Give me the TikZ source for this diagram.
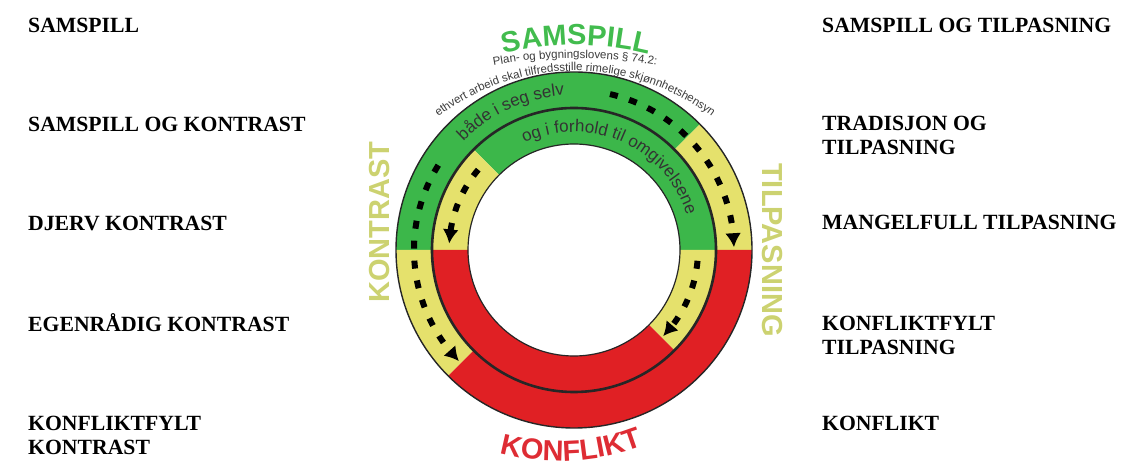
\documentclass[tikz,border=0pt]{standalone}
\usepackage{fontspec}
\setmainfont{Liberation Serif}
\setsansfont{Liberation Sans}
\usetikzlibrary{arrows.meta, bending, decorations.text, positioning}

\definecolor{ringgreen}{RGB}{60,183,74}
\definecolor{ringyellow}{RGB}{229,225,108}
\definecolor{ringred}{RGB}{224,32,36}
\definecolor{wordolive}{RGB}{204,210,112}
\definecolor{wordgreen}{RGB}{66,188,78}
\definecolor{wordred}{RGB}{222,44,52}
\definecolor{lawgray}{RGB}{60,60,60}

% annular piece: inner r, outer r, start angle, end angle, colour
\newcommand{\ringpart}[5]{%
  \fill[#5] (#3:#2) arc[start angle=#3, end angle=#4, radius=#2]
    -- (#4:#1) arc[start angle=#4, end angle=#3, radius=#1] -- cycle;}

\begin{document}
\begin{tikzpicture}[x=1pt, y=1pt,
    lbl/.style={font=\bfseries\fontsize{21.7}{24}\selectfont, anchor=base west, inner sep=0pt, align=left},
    bigword/.style={font=\sffamily\bfseries\fontsize{29}{29}\selectfont, inner sep=0pt},
    dasharrow/.style={line width=6pt, dash pattern=on 8pt off 12pt, -{Latex[length=14pt, width=16pt, flex]}},
    ringline/.style={draw=black!85}]

    \fill[white] (0,0) rectangle (1121,468);
    \useasboundingbox (0,0) rectangle (1121,468);

    % Left labels (y = baseline of last line)
    \foreach \n/\y/\t in {l1/435/SAMSPILL, l2/336/SAMSPILL OG KONTRAST, l3/237/DJERV KONTRAST,
        l4/136/EGENRÅDIG KONTRAST, l5/13/{KONFLIKTFYLT\\KONTRAST}} {
        \node[lbl] (\n) at (28,\y) {\t};
    }

    % Right labels
    \foreach \n/\y/\t in {r1/435/SAMSPILL OG TILPASNING, r2/313/{TRADISJON OG\\TILPASNING},
        r3/238/MANGELFULL TILPASNING, r4/113/{KONFLIKTFYLT\\TILPASNING}, r5/37/KONFLIKT} {
        \node[lbl] (\n) at (822,\y) {\t};
    }

    \begin{scope}[shift={(574,218)}]
        % Outer ring
        \ringpart{142}{178}{45}{180}{ringgreen}
        \ringpart{142}{178}{0}{45}{ringyellow}
        \ringpart{142}{178}{180}{225}{ringyellow}
        \ringpart{142}{178}{225}{360}{ringred}

        % Inner ring
        \ringpart{106}{142}{0}{135}{ringgreen}
        \ringpart{106}{142}{135}{180}{ringyellow}
        \ringpart{106}{142}{315}{360}{ringyellow}
        \ringpart{106}{142}{180}{315}{ringred}

        \draw[ringline, line width=1.4pt] (0,0) circle (178);
        \draw[ringline, line width=2.6pt] (0,0) circle (142);
        \draw[ringline, line width=1.2pt] (0,0) circle (106);

        % Texts inside the rings
        \path[decorate, decoration={text along path, text align=center, text color=black!80,
            text={|\sffamily\fontsize{17}{17}\selectfont|både i seg selv}}]
            (170:155) arc[start angle=170, end angle=59, radius=155];
        \path[decorate, decoration={text along path, text align=center, text color=black!80,
            text={|\sffamily\fontsize{17}{17}\selectfont|og i forhold til omgivelsene}}]
            (150:118) arc[start angle=150, end angle=-18, radius=118];

        % Dashed arrows
        \draw[dasharrow] (148:160) arc[start angle=148, end angle=224, radius=160];
        \draw[dasharrow] (77:160) arc[start angle=77, end angle=1, radius=160];
        \draw[dasharrow] (140:125) arc[start angle=140, end angle=177, radius=125];
        \draw[dasharrow] (-5:124) arc[start angle=-5, end angle=-44, radius=124];
    \end{scope}

    % Words above the rings
    \path[decorate, decoration={text along path, text align=center, text color=wordgreen,
        text={|\sffamily\bfseries\fontsize{29}{29}\selectfont|SAMSPILL}}]
        (576,123) ++(120:300) arc[start angle=120, end angle=60, radius=300];
    \path[decorate, decoration={text along path, text align=center, text color=lawgray,
        text={|\sffamily\fontsize{11.5}{12}\selectfont|Plan- og bygningslovens § 74.2:}}]
        (575,-40) ++(105:450) arc[start angle=105, end angle=75, radius=450];
    \path[decorate, decoration={text along path, text align=center, text color=lawgray,
        text={|\sffamily\fontsize{11.5}{12}\selectfont|ethvert arbeid skal tilfredsstille rimelige skjønnhetshensyn}}]
        (575,170) ++(150:227) arc[start angle=150, end angle=30, radius=227];

    % Side words
    \node[bigword, text=wordolive, rotate=90] (kontrast) at (380,246) {KONTRAST};
    \node[bigword, text=wordolive, rotate=-90] (tilpasning) at (772,218) {TILPASNING};
    \path[decorate, decoration={text along path, text align=center, text color=wordred,
        text={|\sffamily\bfseries\fontsize{29}{29}\selectfont|KONFLIKT}}]
        (560,237) ++(243:230) arc[start angle=243, end angle=303, radius=230];
\end{tikzpicture}
\end{document}
